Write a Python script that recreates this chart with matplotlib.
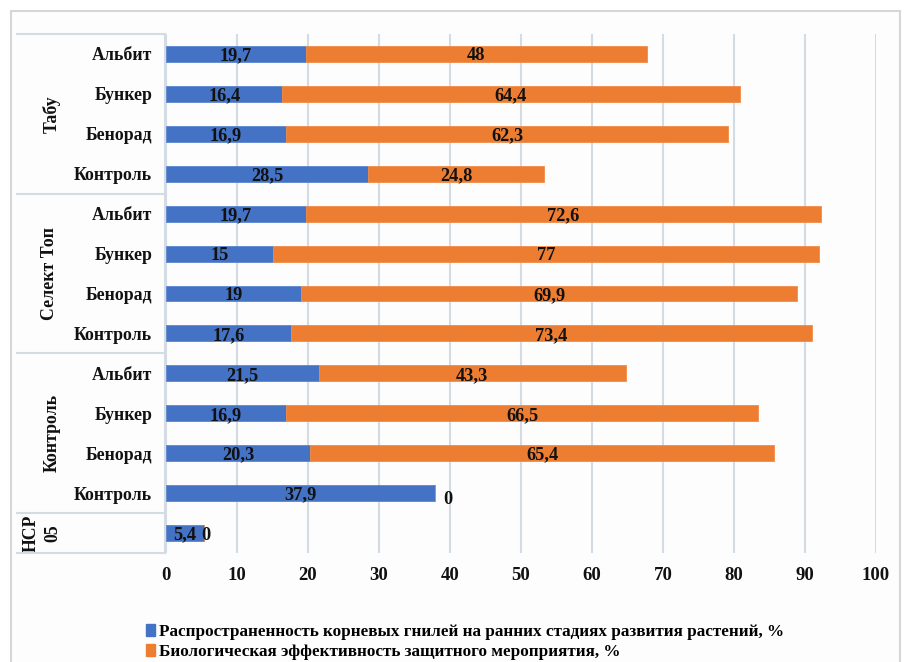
import matplotlib
matplotlib.use('Agg')
import matplotlib.pyplot as plt
from matplotlib.patches import Patch, Rectangle
from matplotlib.lines import Line2D
import matplotlib.transforms as mtransforms

plt.rcParams['font.family'] = ['Liberation Serif', 'DejaVu Serif']
plt.rcParams['font.weight'] = 'bold'

# данные
groups = ['Табу', 'Селект Топ', 'Контроль', 'НСР\n05']
group_sizes = [4, 4, 4, 1]
labels = ['Альбит', 'Бункер', 'Бенорад', 'Контроль',
          'Альбит', 'Бункер', 'Бенорад', 'Контроль',
          'Альбит', 'Бункер', 'Бенорад', 'Контроль',
          '']
prevalence = [19.7, 16.4, 16.9, 28.5,
              19.7, 15, 19, 17.6,
              21.5, 16.9, 20.3, 37.9,
              5.4]
efficiency = [48, 64.4, 62.3, 24.8,
              72.6, 77, 69.9, 73.4,
              43.3, 66.5, 65.4, 0,
              0]
legend_names = ['Распространенность корневых гнилей на ранних стадиях развития растений, %',
                'Биологическая эффективность защитного мероприятия, %']
xticks = [0, 10, 20, 30, 40, 50, 60, 70, 80, 90, 100]

blue = '#4472C4'
orange = '#ED7D31'
grid_c = '#D3DCE5'
W, H = 911, 662

def fmt(v):
    s = ('%g' % v).replace('.', ',')
    return s

fig = plt.figure(figsize=(W / 100, H / 100), dpi=100)
fig.patch.set_facecolor('white')

# рамка
fig.patches.append(Rectangle((11 / W, -0.05), (900 - 11) / W, 1.05 - 11 / H,
                             transform=fig.transFigure, fill=True,
                             facecolor='#FDFDFD', edgecolor='#D6D6D6', lw=1.5, zorder=-1))

ax = fig.add_axes([166 / W, 1 - 553 / H, (876 - 166) / W, (553 - 34) / H])
ax.set_facecolor('none')

y = list(range(len(labels)))
ax.barh(y, prevalence, height=0.4, color=blue, edgecolor='#5B85CF', lw=0.6, zorder=3)
ax.barh(y, efficiency, left=prevalence, height=0.4, color=orange, edgecolor='#F08C48', lw=0.6, zorder=3)

lab_font = dict(fontsize=13.2, fontweight='bold', color='#111111', zorder=4)
for i in y:
    b = prevalence[i]
    o = efficiency[i]
    ax.text(b / 2, i, fmt(b), ha='center', va='center_baseline', **lab_font)
    if o > 0:
        ax.text(b + o / 2, i, fmt(o), ha='center', va='center_baseline', **lab_font)
    else:
        off = (8, -4) if labels[i] else (-3, 0)
        ax.annotate('0', (b, i), xytext=off, textcoords='offset pixels',
                    ha='left', va='center_baseline', **lab_font)

ax.set_xlim(0, 100)
ax.set_ylim(12.5, -0.5)
ax.set_xticks(xticks)
ax.set_xticklabels([str(t) for t in xticks], fontsize=13.5, fontweight='bold')
ax.set_yticks(y)
ax.set_yticklabels(labels, fontsize=12.8, fontweight='bold')
ax.tick_params(axis='both', length=0, colors='#111111')
ax.tick_params(axis='y', pad=10)
ax.tick_params(axis='x', pad=10)
for s in ax.spines.values():
    s.set_visible(False)
ax.grid(axis='x', color=grid_c, lw=1.5, zorder=0)

# таблица категорий слева
tr = mtransforms.blended_transform_factory(fig.transFigure, ax.transData)
bounds = [-0.5]
for g in group_sizes:
    bounds.append(bounds[-1] + g)
for yb in bounds:
    fig.add_artist(Line2D([17 / W, 165 / W], [yb, yb], transform=tr, color=grid_c, lw=1.5))
fig.add_artist(Line2D([165 / W, 165 / W], [bounds[0], bounds[-1]], transform=tr, color=grid_c, lw=1.5))

gx = [52, 50, 52, 42]
for k, g in enumerate(groups):
    yc = (bounds[k] + bounds[k + 1]) / 2
    ax.text(gx[k] / W, yc, g, transform=tr, rotation=90, ha='center', va='center',
            fontsize=12.8, fontweight='bold', color='#111111', linespacing=1.35)

handles = [Patch(facecolor=blue, edgecolor=blue), Patch(facecolor=orange, edgecolor=orange)]
fig.legend(handles, legend_names, loc='upper left', bbox_to_anchor=(146 / W, 1 - 624 / H),
           frameon=False, handlelength=0.55, handleheight=0.7, handletextpad=0.2,
           labelspacing=0.25, borderpad=0, borderaxespad=0,
           prop={'family': 'Liberation Serif', 'weight': 'bold', 'size': 12.3})

fig.savefig('out.png', dpi=100)
